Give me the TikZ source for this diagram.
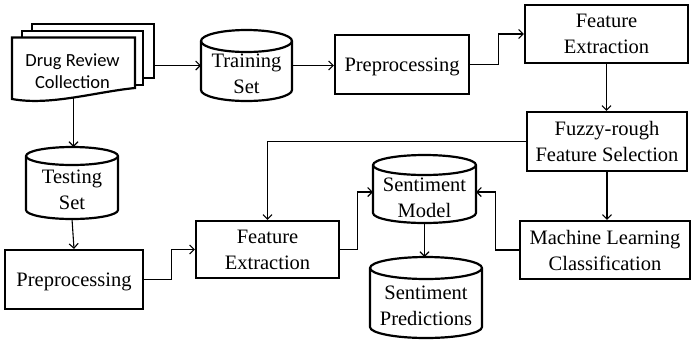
\documentclass[tikz,border=0pt]{standalone}
\usepackage{fontspec}
\setmainfont{Liberation Serif}
\newfontfamily\calfont{Carlito}
\usetikzlibrary{arrows.meta}
\tikzset{
  boxline/.style={line width=2.2pt, line join=miter},
  box/.style={boxline, draw, fill=white, inner sep=0pt, align=center},
  conn/.style={line width=1.1pt, -{Straight Barb[length=4.5pt,width=9pt]}},
  txt/.style={align=center, inner sep=0pt},
  anch/.style={inner sep=0pt, outer sep=0pt},
}
% #1 name, #2 cx, #3 cy, #4 w, #5 h, #6 ry, #7 text y, #8 text
\newcommand{\dbcyl}[8]{%
  \node[anch, minimum width=#4pt, minimum height=#5pt] (#1) at (#2,#3) {};
  \draw[boxline, fill=white] ([yshift=-#6pt]#1.north west) -- ([yshift=#6pt]#1.south west)
    arc[start angle=180, end angle=360, x radius=#4pt/2, y radius=#6pt]
    -- ([yshift=-#6pt]#1.north east)
    arc[start angle=0, end angle=180, x radius=#4pt/2, y radius=#6pt] -- cycle;
  \draw[boxline] ([yshift=-#6pt]#1.north west)
    arc[start angle=180, end angle=360, x radius=#4pt/2, y radius=#6pt];
  \node[txt] (#1t) at (#2,#7) {#8};
}
\begin{document}
\begin{tikzpicture}[x=1pt, y=-1pt, font=\fontsize{20.5}{26}\selectfont]
\fill[white] (0,0) rectangle (691,341);
\useasboundingbox (0,0) rectangle (691,341);

% document stack
\node[anch, minimum width=122pt, minimum height=54pt] (pg3) at (93,51) {};
\draw[boxline, fill=white] (pg3.north west) rectangle (pg3.south east);
\node[anch, minimum width=121pt, minimum height=54pt] (pg2) at (82.5,58) {};
\draw[boxline, fill=white] (pg2.north west) rectangle (pg2.south east);
\node[anch, minimum width=123pt, minimum height=60.1pt] (drc) at (73.5,67.55) {};
\draw[boxline, fill=white] (12,37.5) -- (135,37.5) -- (135,88)
  .. controls (95,92) and (50,106) .. (12,99) -- cycle;
\node[txt, font=\calfont\fontsize{18.5}{22}\selectfont] (drct) at (72.5,72.6)
  {\strut Drug Review\\\strut Collection};

% cylinders
\dbcyl{tr}{246.5}{65.5}{91}{71}{11}{75.5}{\strut Training\\\strut Set}
\dbcyl{ts}{72}{183}{92}{72}{9}{191}{\strut Testing\\\strut Set}
\dbcyl{sm}{424.5}{189}{103}{68}{10}{199}{\strut Sentiment\\\strut Model}
\dbcyl{sp}{426}{297.5}{112}{81}{11}{307.5}{\strut Sentiment\\\strut Predictions}

% boxes
\node[box, minimum width=134pt, minimum height=59pt, text depth=0pt] (pp1) at (402,64.5) {Preprocessing};
\node[box, minimum width=163pt, minimum height=58pt] (fe1) at (606.5,34) {Feature\\Extraction};
\node[box, minimum width=160pt, minimum height=59pt] (fz) at (607,141.5) {Fuzzy-rough\\Feature Selection};
\node[box, minimum width=170pt, minimum height=58pt] (ml) at (605,250) {Machine Learning\\Classification};
\node[box, minimum width=143pt, minimum height=57pt] (fe2) at (267.5,249.5) {Feature\\Extraction};
\node[box, minimum width=138pt, minimum height=59pt, text depth=0pt] (pp2) at (74,279.5) {Preprocessing};

% connectors
\draw[conn] (tr.west -| pg3.east) -- (tr.west);
\draw[conn] (tr.east) -- (tr.east -| pp1.west);
\draw[conn] (pp1.east) -- ++(28,0) |- (fe1.west);
\draw[conn] (fe1.south) -- (fe1.south |- fz.north);
\draw[conn] (fz.west) -| (fe2.north);
\draw[conn] (fz.south) -- (fz.south |- ml.north);
\draw[conn] (ml.west) -- ++(-23,0) |- ([yshift=-3pt]sm.east);
\draw[conn] (fe2.east) -- ++(17,0) |- ([yshift=-3pt]sm.west);
\draw[conn] (sm.south) -- (sm.south |- sp.north);
\draw[conn] (drc.south) -- (drc.south |- ts.north);
\draw[conn] (ts.south) -- (pp2.north);
\draw[conn] (pp2.east) -- ++(27,0) |- (fe2.west);
\end{tikzpicture}
\end{document}
